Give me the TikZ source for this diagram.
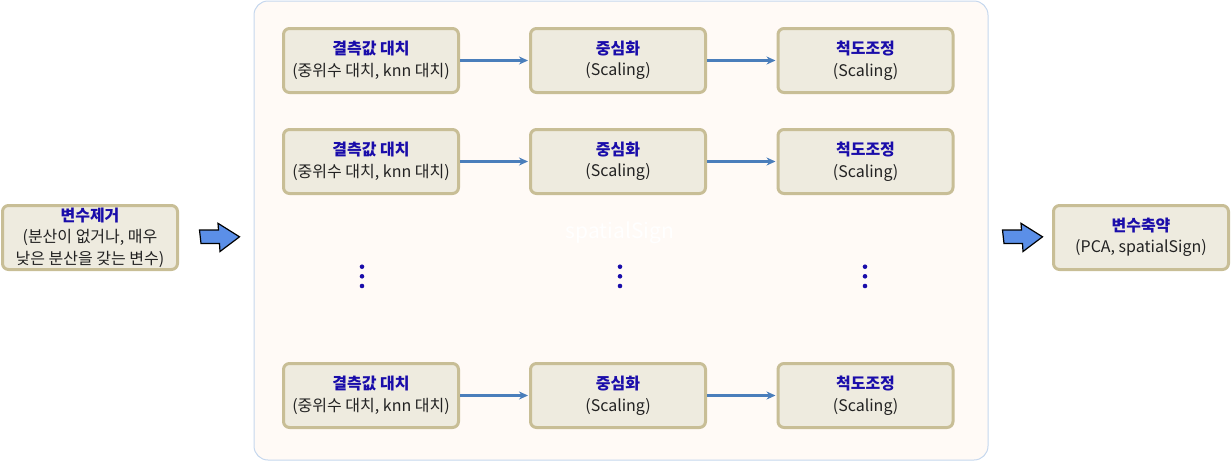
\documentclass[tikz,border=0pt]{standalone}
\usepackage{fontspec}
\setmainfont{Noto Sans CJK KR}
\usetikzlibrary{arrows.meta}
\definecolor{boxfill}{HTML}{EEEBDF}
\definecolor{boxline}{HTML}{C8BE96}
\definecolor{contfill}{HTML}{FFFAF6}
\definecolor{contline}{HTML}{C5D7EE}
\definecolor{titleblue}{HTML}{1A0DAA}
\definecolor{txtgray}{HTML}{222222}
\definecolor{conn}{HTML}{4A7EBB}
\definecolor{bigarrow}{HTML}{5B8FE8}
\tikzset{
  stepbox/.style={draw=boxline, fill=boxfill, line width=3pt, rounded corners=6pt,
    minimum width=175pt, minimum height=64pt, align=center, inner sep=0pt,
    font=\fontsize{16}{21.5}\selectfont, text=txtgray},
  link/.style={draw=conn, line width=2.5pt, -{Stealth[length=9pt,width=8pt]}, shorten >=1pt},
  bigarr/.style={draw=black, fill=bigarrow, line width=1.2pt, line join=miter},
  dotmark/.style={fill=titleblue, draw=none},
}
\newcommand{\ttl}[1]{{\bfseries\color{titleblue}#1}}
\begin{document}
\begin{tikzpicture}[x=1pt,y=-1pt]
\useasboundingbox (0,0) rectangle (1232,461);
% container
\node[draw=contline, fill=contfill, line width=1pt, rounded corners=14pt,
  minimum width=734pt, minimum height=459pt, inner sep=0pt] (cont) at (621,230.5) {};
\node[text=white, font=\fontsize{21}{24}\selectfont] (ghost) at (620,233) {spatialSign};
% rows
\foreach \r/\y in {1/60.5, 2/161.5, 3/395.5}{
  \node[stepbox] (a\r) at (371,\y) {\ttl{결측값 대치}\\(중위수 대치, knn 대치)};
  \node[stepbox] (b\r) at (618,\y) {\ttl{중심화}\\(Scaling)};
  \node[stepbox] (c\r) at (865.5,\y) {\ttl{척도조정}\\(Scaling)};
  \draw[link] (a\r) -- (b\r);
  \draw[link] (b\r) -- (c\r);
}
% dots
\foreach \x/\n in {362/a, 620/b, 865/c}{
  \foreach \yy/\k in {266.7/1, 276.3/2, 286/3}{
    \fill[dotmark] (\x,\yy) circle (2.3pt) coordinate (dot\n\k);
  }
}
% side boxes
\node[stepbox] (left) at (90,237.5) {\ttl{변수제거}\\(분산이 없거나, 매우\\낮은 분산을 갖는 변수)};
\node[stepbox] (right) at (1141,237.5) {\ttl{변수축약}\\(PCA, spatialSign)};
% block arrows
\draw[bigarr] (199.5,230) -- (218.5,230) -- (218,223.3) -- (239.5,236.8) -- (220,251.5) -- (219.5,243.5) -- (201,243.5) -- cycle;
\draw[bigarr] (1002.5,230) -- (1021.5,230) -- (1021,223.3) -- (1042.5,236.8) -- (1023,251.5) -- (1022.5,243.5) -- (1004,243.5) -- cycle;
\end{tikzpicture}
\end{document}
